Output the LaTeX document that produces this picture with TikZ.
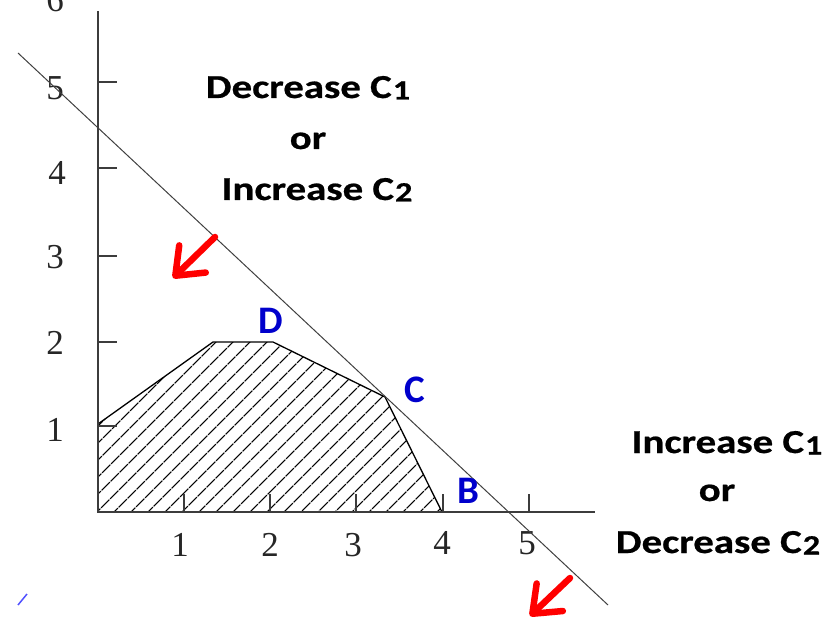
\documentclass[tikz,border=0pt]{standalone}
\usepackage{fontspec}
\setmainfont{Liberation Serif}
\newfontfamily\calfont{Carlito}
\newfontfamily\calwide{Carlito}[FakeStretch=1.22,FakeBold=0.6]
\usetikzlibrary{arrows.meta,patterns.meta}

\definecolor{lblblue}{RGB}{0,0,204}
\definecolor{arrred}{RGB}{255,0,0}
\definecolor{axisgray}{RGB}{60,60,60}
\definecolor{strayblue}{RGB}{80,80,255}

\newcommand{\subd}[1]{\kern1pt\raisebox{-1.5pt}{\fontsize{28}{28}\selectfont #1}}

\begin{document}
\begin{tikzpicture}[x=1pt,y=-1pt,
  axis/.style={draw=axisgray,line width=2pt},
  tickmark/.style={draw=axisgray,line width=1.6pt},
  ticklbl/.style={font=\fontsize{35}{35}\selectfont,text=black!85,inner sep=0pt},
  ptlbl/.style={font=\calfont\bfseries\fontsize{39}{39}\selectfont,text=lblblue,inner sep=0pt},
  note/.style={font=\calwide\bfseries\fontsize{33.5}{33.5}\selectfont,anchor=base,inner sep=0pt},
  objline/.style={draw=black!75,line width=1pt},
  region/.style={draw=black,line width=1.3pt,line join=round,
    pattern={Lines[angle=45,distance=13pt,line width=1.3pt]}},
  dirarrow/.style={draw=arrred,line width=6.5pt,line cap=round,
    -{Straight Barb[round,length=24pt,width=38pt]}}
]
\useasboundingbox (0,0) rectangle (826,617);
\clip (0,0) rectangle (826,617);

% feasible region
\coordinate (o) at (98,512);
\coordinate (p1) at (98,424);
\coordinate (p2) at (213,342);
\coordinate (pD) at (273,342);
\coordinate (pC) at (385,397);
\coordinate (pB) at (442,512);
\path[region] (o) -- (p1) -- (p2) -- (pD) -- (pC) -- (pB) -- cycle;

% axes
\coordinate (ytop) at (98,11);
\coordinate (xend) at (595,512);
\draw[axis] (ytop) -- (o) -- (xend);

% x ticks
\foreach \x/\n in {184/1,270/2,356/3,443/4,529/5}{
  \coordinate (xt\n) at (\x,512);
  \coordinate (xu\n) at (\x,494);
  \draw[tickmark] (xt\n) -- (xu\n);
}
% y ticks
\foreach \y/\n in {426/1,342/2,256/3,168/4,82/5}{
  \coordinate (yt\n) at (98,\y);
  \coordinate (yr\n) at (117,\y);
  \draw[tickmark] (yt\n) -- (yr\n);
}

% tick labels
\node[ticklbl] (lx1) at (180,545) {1};
\node[ticklbl] (lx2) at (270,545) {2};
\node[ticklbl] (lx3) at (353,545) {3};
\node[ticklbl] (lx4) at (442,543) {4};
\node[ticklbl] (lx5) at (527,543) {5};
\node[ticklbl] (ly1) at (55,430) {1};
\node[ticklbl] (ly2) at (55,343) {2};
\node[ticklbl] (ly3) at (55,257) {3};
\node[ticklbl] (ly4) at (57,173) {4};
\node[ticklbl] (ly5) at (55,88) {5};
\node[ticklbl] (ly6) at (55,0) {6};

% objective line
\coordinate (la) at (18,53);
\coordinate (lb) at (608,605);
\draw[objline] (la) -- (lb);

% point labels
\node[ptlbl] (D) at (271,321) {D};
\node[ptlbl] (C) at (415,390) {C};
\node[ptlbl] (B) at (468,491) {B};

% annotations
\node[note] (t1a) at (308,98) {Decrease C\subd{1}};
\node[note] (t1b) at (308,149) {or};
\node[note] (t1c) at (317,200) {Increase C\subd{2}};
\node[note] (t2a) at (727,453) {Increase C\subd{1}};
\node[note] (t2b) at (717,501) {or};
\node[note] (t2c) at (718,553) {Decrease C\subd{2}};

% direction arrows
\coordinate (a1s) at (215,237);
\coordinate (a1e) at (173,278);
\draw[dirarrow] (a1s) -- (a1e);
\coordinate (a2s) at (570,578);
\coordinate (a2e) at (530,616);
\draw[dirarrow] (a2s) -- (a2e);

% stray mark
\coordinate (s1) at (18,605);
\coordinate (s2) at (27,594);
\draw[strayblue,line width=1.5pt] (s1) -- (s2);
\end{tikzpicture}
\end{document}
